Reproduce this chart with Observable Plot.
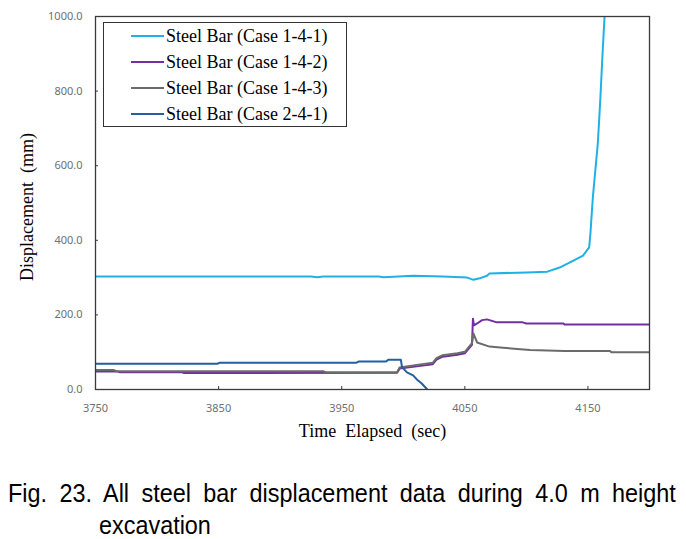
<!DOCTYPE html>
<html>
<head>
<meta charset="utf-8">
<script src="https://cdn.jsdelivr.net/npm/d3@7"></script>
<script src="https://cdn.jsdelivr.net/npm/@observablehq/plot@0.6"></script>
<style>
  body { margin: 0; background: #fff; }
  #wrap { position: relative; width: 686px; height: 539px; overflow: hidden; }
  #legend { position: absolute; left: 103px; top: 22px; width: 244px; height: 105px; box-sizing: border-box;
            border: 1.3px solid #333; background: #fff; font-family: "Liberation Serif", serif; font-size: 18px; color: #000; }
  #legend .row { position: relative; height: 26px; line-height: 26px; white-space: nowrap; }
  #legend .sw { position: absolute; left: 27px; top: 12px; width: 33px; height: 2px; }
  #legend .lab { position: absolute; left: 62px; top: 0; }
  .cap { position: absolute; font-family: "Liberation Sans", Arial, sans-serif; font-size: 26px; color: #000; line-height: 32px;
         white-space: nowrap; transform: scaleX(0.9); transform-origin: 0 0; }
  #cap1 { left: 8px; top: 477px; width: 742px; text-align: justify; text-align-last: justify; }
  #cap2 { left: 99px; top: 509px; }
</style>
</head>
<body>
<div id="wrap">
  <div id="chart"></div>
  <div id="legend"></div>
  <div class="cap" id="cap1">Fig. 23. All steel bar displacement data during 4.0 m height</div>
  <div class="cap" id="cap2">excavation</div>
</div>
<script>
// ---- data ----
const seriesNames = ["Steel Bar (Case 1-4-1)", "Steel Bar (Case 1-4-2)", "Steel Bar (Case 1-4-3)", "Steel Bar (Case 2-4-1)"];
const seriesColors = ["#1fb1e6", "#7030a0", "#6b6b6b", "#22609e"];
const xTicks = [3750, 3850, 3950, 4050, 4150];
const yTicks = [0, 200, 400, 600, 800, 1000];
const xDomain = [3750, 4200];
const yDomain = [0, 1000];

// Case 1-4-1
const t1 = [3750, 3925, 3930, 3935, 3980, 3984, 4008, 4032, 4052, 4057, 4062, 4068, 4070, 4100, 4117, 4127, 4135, 4146, 4151, 4152, 4154, 4158, 4160, 4162, 4163.5];
const v1 = [303, 303, 301, 303, 303, 301, 305, 303, 300, 294, 298, 305, 311, 314, 316, 327, 340, 359, 381, 418, 516, 659, 775, 909, 1000];
// Case 1-4-2
const t2 = [3750, 3768, 3770, 3820, 3822, 3995, 3997, 4011, 4024, 4027, 4032, 4044, 4050, 4052.5, 4055.8, 4056.6, 4057.4, 4060, 4064, 4068, 4076, 4097, 4100, 4130, 4131, 4200];
const v2 = [48, 48, 46, 46, 44, 45, 56, 62, 68, 80, 88, 93, 97, 107, 120, 190, 172, 177, 186, 188, 180, 180, 177, 177, 174, 174];
// Case 1-4-3
const t3 = [3750, 3765, 3767, 3935, 3937, 3995, 3997, 4011, 4024, 4027, 4032, 4044, 4050, 4052.5, 4055.8, 4057, 4060, 4070, 4081, 4103, 4131, 4168, 4169, 4200];
const v3 = [52, 52, 49, 49, 46, 46, 59, 66, 72, 84, 92, 97, 101, 111, 124, 150, 126, 115, 112, 106, 103, 103, 100, 100];
// Case 2-4-1
const t4 = [3750, 3849, 3851, 3962, 3964, 3986, 3988, 3998, 3999, 4003, 4008, 4011, 4015, 4019.5];
const v4 = [69, 69, 72, 72, 75, 75, 80, 80, 60, 46, 38, 27, 16, 0];

const seriesT = [t1, t2, t3, t4];
const seriesV = [v1, v2, v3, v4];
const rows = [];
seriesT.forEach((ts, i) => ts.forEach((t, j) => rows.push({series: seriesNames[i], t, v: seriesV[i][j]})));

const chart = Plot.plot({
  width: 686,
  height: 450,
  marginLeft: 95,
  marginRight: 37,
  marginTop: 16,
  marginBottom: 61,
  x: {domain: xDomain},
  y: {domain: yDomain},
  color: {domain: seriesNames, range: seriesColors},
  style: {fontFamily: "'Noto Sans', sans-serif", fontSize: "11px", color: "#6f6f6f", background: "#fff"},
  marks: [
    Plot.lineY(rows, {x: "t", y: "v", z: "series", stroke: "series", strokeWidth: 2, clip: true}),
    Plot.frame({stroke: "#3a3a3a", strokeWidth: 1.3}),
    Plot.axisX({ticks: xTicks, tickSize: -3, tickPadding: 18, tickFormat: d => String(d), label: null, stroke: "#3a3a3a"}),
    Plot.axisY({ticks: yTicks, tickSize: -3, tickPadding: 16, tickFormat: d => d.toFixed(1), label: null, stroke: "#3a3a3a"}),
    Plot.text(["Time\u00a0 Elapsed\u00a0 (sec)"], {frameAnchor: "bottom", dy: 47, fontFamily: "'Liberation Serif', serif", fontSize: 18, fill: "#000"}),
    Plot.text(["Displacement\u00a0 (mm)"], {frameAnchor: "left", rotate: -90, textAnchor: "middle", dx: -68, dy: 4, fontFamily: "'Liberation Serif', serif", fontSize: 18, fill: "#000"})
  ]
});
document.getElementById("chart").appendChild(chart);

const legend = document.getElementById("legend");
seriesNames.forEach((name, i) => {
  const row = document.createElement("div");
  row.className = "row";
  const sw = document.createElement("div");
  sw.className = "sw";
  sw.style.background = seriesColors[i];
  const lab = document.createElement("span");
  lab.className = "lab";
  lab.textContent = name;
  row.appendChild(sw);
  row.appendChild(lab);
  legend.appendChild(row);
});
</script>
</body>
</html>
